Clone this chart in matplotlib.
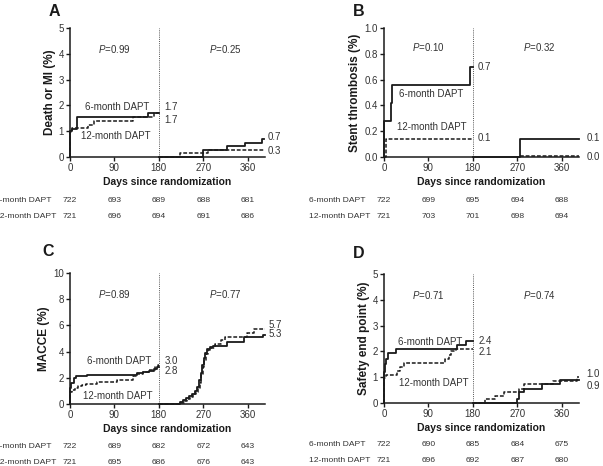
import matplotlib
matplotlib.use("Agg")
import matplotlib.pyplot as plt
from matplotlib.transforms import blended_transform_factory

plt.rcParams["font.family"] = ["Liberation Sans", "DejaVu Sans"]
plt.rcParams["mathtext.fontset"] = "custom"
plt.rcParams["mathtext.it"] = "Liberation Sans:italic"
plt.rcParams["mathtext.rm"] = "Liberation Sans"

# ---- data ----
days_ticks = [0, 90, 180, 270, 360]
arms = ["6-month DAPT", "12-month DAPT"]

# A: death or MI
a6_early_t = [0, 1, 5, 14, 158, 180]
a6_early_y = [0, 1.0, 1.1, 1.55, 1.69, 1.69]
a12_early_t = [0, 1, 5, 37, 48, 128, 170, 180]
a12_early_y = [0, 0.97, 1.12, 1.25, 1.4, 1.55, 1.69, 1.69]
a6_late_t = [180, 270, 318, 355, 388, 393]
a6_late_y = [0, 0.28, 0.42, 0.56, 0.70, 0.70]
a12_late_t = [180, 222, 280, 393]
a12_late_y = [0, 0.14, 0.28, 0.28]
a_risk6 = [722, 693, 689, 688, 681]
a_risk12 = [721, 696, 694, 691, 686]

# B: stent thrombosis
b6_early_t = [0, 1, 14, 16, 175, 180]
b6_early_y = [0, 0.28, 0.42, 0.56, 0.70, 0.70]
b12_early_t = [0, 5, 180]
b12_early_y = [0, 0.14, 0.14]
b6_late_t = [180, 275, 395]
b6_late_y = [0, 0.14, 0.14]
b12_late_t = [275, 395]
b12_late_y = [0.005, 0.005]
b_risk6 = [722, 699, 695, 694, 688]
b_risk12 = [721, 703, 701, 698, 694]

# C: MACCE
c6_early_t = [0, 1, 3, 8, 12, 34, 136, 148, 160, 170, 177, 180]
c6_early_y = [0, 1.25, 1.6, 1.95, 2.1, 2.25, 2.35, 2.45, 2.55, 2.7, 2.8, 2.8]
c12_early_t = [0, 1, 5, 10, 16, 25, 32, 54, 95, 128, 133, 147, 161, 172, 178, 180]
c12_early_y = [0, 0.95, 1.1, 1.2, 1.35, 1.45, 1.55, 1.7, 1.8, 2.1, 2.3, 2.45, 2.6, 2.8, 3.0, 3.0]
c6_late_t = [180, 222, 228, 235, 242, 248, 254, 258, 262, 265, 268, 271, 274, 278, 283, 290, 318, 352, 390, 395]
c6_late_y = [0, 0.15, 0.3, 0.45, 0.6, 0.8, 1.0, 1.3, 1.8, 2.4, 3.0, 3.5, 3.9, 4.2, 4.35, 4.4, 4.7, 5.1, 5.3, 5.3]
c12_late_t = [180, 222, 230, 237, 244, 250, 255, 259, 263, 266, 269, 272, 276, 280, 286, 293, 305, 313, 358, 372, 395]
c12_late_y = [0, 0.1, 0.25, 0.4, 0.55, 0.75, 0.95, 1.2, 1.6, 2.2, 2.8, 3.3, 3.8, 4.1, 4.3, 4.6, 4.9, 5.15, 5.4, 5.7, 5.7]
c_risk6 = [722, 689, 682, 672, 643]
c_risk12 = [721, 695, 686, 676, 643]

# D: safety end point
d6_early_t = [0, 1, 2, 5, 8, 25, 148, 167, 180]
d6_early_y = [0, 1.2, 1.5, 1.7, 1.95, 2.1, 2.25, 2.4, 2.4]
d12_early_t = [0, 1, 4, 26, 33, 40, 124, 131, 136, 145, 180]
d12_early_y = [0, 0.95, 1.1, 1.25, 1.4, 1.55, 1.7, 1.85, 2.0, 2.1, 2.1]
d6_late_t = [180, 270, 273, 284, 320, 356, 395]
d6_late_y = [0, 0.14, 0.42, 0.56, 0.72, 0.88, 0.88]
d12_late_t = [180, 205, 225, 244, 274, 284, 342, 390, 395]
d12_late_y = [0, 0.14, 0.28, 0.42, 0.56, 0.72, 0.86, 1.0, 1.0]
d_risk6 = [722, 690, 685, 684, 675]
d_risk12 = [721, 696, 692, 687, 680]

W, H = 603, 466
fig = plt.figure(figsize=(W / 100, H / 100), dpi=100)


def px_axes(x, top, w, h):
    return fig.add_axes([x / W, 1 - (top + h) / H, w / W, h / H])


INK = "#1a1a1a"
TXT = "#333333"

panels = [
    dict(letter="A", box=(70, 28, 195, 129), ylabel="Death or MI (%)", ylim=5, yticks=[0, 1, 2, 3, 4, 5], fmt="{:g}",
         curves=[(a6_early_t, a6_early_y, a12_early_t, a12_early_y), (a6_late_t, a6_late_y, a12_late_t, a12_late_y)],
         p=("0.99", "0.25"), py=4.2, lab6=(95, 1.92), lab12=(93, 0.8),
         ends=[(192, 1.92, "1.7"), (192, 1.42, "1.7"), (400, 0.76, "0.7"), (400, 0.22, "0.3")],
         risk=(a_risk6, a_risk12), rows=(201, 216), letter_xy=(54, 12), xlab_y=182),
    dict(letter="B", box=(384, 28, 195, 129), ylabel="Stent thrombosis (%)", ylim=1.0,
         yticks=[0, 0.2, 0.4, 0.6, 0.8, 1.0], fmt="{:.1f}",
         curves=[(b6_early_t, b6_early_y, b12_early_t, b12_early_y), (b6_late_t, b6_late_y, b12_late_t, b12_late_y)],
         p=("0.10", "0.32"), py=0.85, lab6=(95, 0.49), lab12=(97, 0.23),
         ends=[(190, 0.70, "0.7"), (190, 0.145, "0.1"), (410, 0.15, "0.1"), (410, 0.0, "0.0")],
         risk=(b_risk6, b_risk12), rows=(201, 216), letter_xy=(359, 12), xlab_y=182),
    dict(letter="C", box=(70, 273, 195, 131), ylabel="MACCE (%)", ylim=10, yticks=[0, 2, 4, 6, 8, 10], fmt="{:g}",
         curves=[(c6_early_t, c6_early_y, c12_early_t, c12_early_y), (c6_late_t, c6_late_y, c12_late_t, c12_late_y)],
         p=("0.89", "0.77"), py=8.4, lab6=(99, 3.25), lab12=(97, 0.6),
         ends=[(192, 3.3, "3.0"), (192, 2.5, "2.8"), (403, 6.0, "5.7"), (403, 5.35, "5.3")],
         risk=(c_risk6, c_risk12), rows=(447, 462), letter_xy=(48, 252), xlab_y=429),
    dict(letter="D", box=(384, 274, 195, 129), ylabel="Safety end point (%)", ylim=5, yticks=[0, 1, 2, 3, 4, 5],
         fmt="{:g}",
         curves=[(d6_early_t, d6_early_y, d12_early_t, d12_early_y), (d6_late_t, d6_late_y, d12_late_t, d12_late_y)],
         p=("0.71", "0.74"), py=4.18, lab6=(94, 2.38), lab12=(100, 0.78),
         ends=[(192, 2.4, "2.4"), (192, 1.98, "2.1"), (410, 1.14, "1.0"), (410, 0.66, "0.9")],
         risk=(d_risk6, d_risk12), rows=(445, 460), letter_xy=(359, 253), xlab_y=428),
]

for pn in panels:
    ax = px_axes(*pn["box"])
    for t6, y6, t12, y12 in pn["curves"]:
        ax.step(t6, y6, where="post", color=INK, lw=1.3, zorder=3, clip_on=False)
        ax.step(t12, y12, where="post", color=INK, lw=1.1, ls=(0, (2.5, 1.2)), zorder=3, clip_on=False)
    ax.axvline(180, color="#555555", lw=0.7, ls=(0, (1, 1.2)), zorder=1)

    ax.set_xlim(0, 395)
    ax.set_ylim(0, pn["ylim"])
    ax.set_xticks(days_ticks)
    ax.set_yticks(pn["yticks"])
    ax.set_yticklabels([pn["fmt"].format(v) for v in pn["yticks"]])
    for s in ["top", "right"]:
        ax.spines[s].set_visible(False)
    for s in ["left", "bottom"]:
        ax.spines[s].set_linewidth(1.1)
        ax.spines[s].set_color(INK)
    ax.tick_params(direction="out", length=3, width=1, colors=INK, labelsize=7, pad=1.5, labelcolor=TXT)
    ax.set_ylabel(pn["ylabel"], fontsize=8.5, fontweight="bold", color=INK, labelpad=2)

    ax.text(90, pn["py"], r"$\mathit{P}$=" + pn["p"][0], ha="center", va="center", fontsize=7, color=TXT)
    ax.text(315, pn["py"], r"$\mathit{P}$=" + pn["p"][1], ha="center", va="center", fontsize=7, color=TXT)
    ax.text(*pn["lab6"], arms[0], ha="center", va="center", fontsize=7, color=TXT)
    ax.text(*pn["lab12"], arms[1], ha="center", va="center", fontsize=7, color=TXT)
    for ex, ey, s in pn["ends"]:
        ax.text(ex, ey, s, ha="left", va="center", fontsize=7, color=TXT, clip_on=False)

    fig.text(pn["letter_xy"][0] / W, 1 - pn["letter_xy"][1] / H, pn["letter"], ha="center", va="center",
             fontsize=11.5, fontweight="bold", color=INK)
    x0, top, w, h = pn["box"]
    fig.text((x0 + w / 2) / W, 1 - pn["xlab_y"] / H, "Days since randomization", ha="center", va="center",
             fontsize=7.5, fontweight="bold", color=INK)

    tr = blended_transform_factory(ax.transData, fig.transFigure)
    for row_y, name, counts in zip(pn["rows"], arms, pn["risk"]):
        fig.text((x0 - 75) / W, 1 - row_y / H, name, ha="left", va="center", fontsize=6.1, color=TXT)
        for d, n in zip(days_ticks, counts):
            ax.text(d, 1 - row_y / H, str(n), transform=tr, ha="center", va="center", fontsize=6.1, color=TXT,
                    clip_on=False)

fig.savefig("out.png", dpi=100, facecolor="white")
